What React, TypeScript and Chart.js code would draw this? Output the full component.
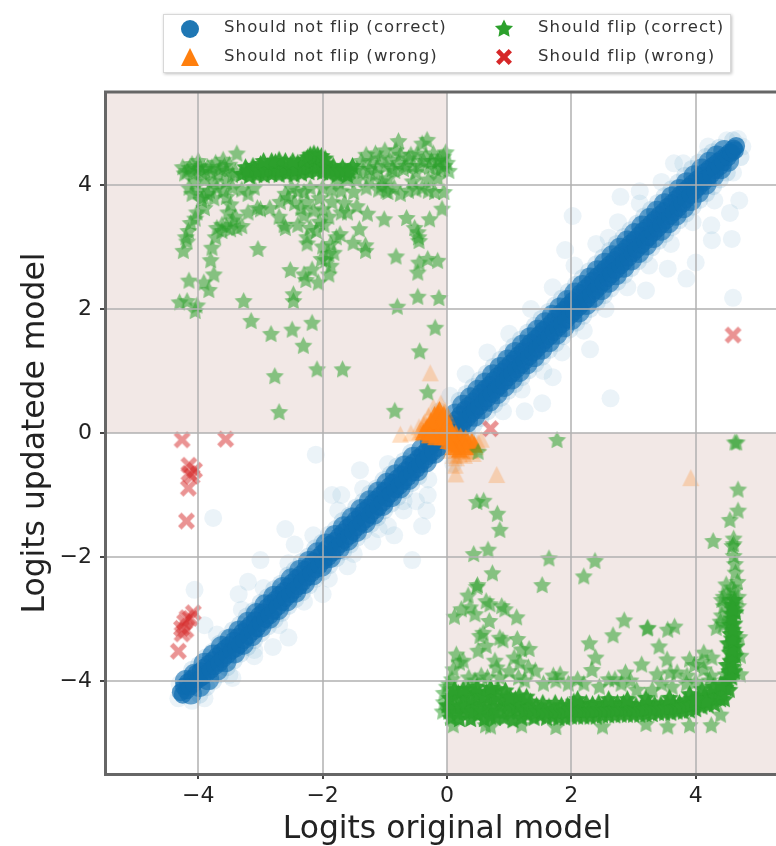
import React, { useEffect, useRef } from "react";
import { Chart, registerables } from "chart.js";

Chart.register(...registerables);

const axisTicks = [-4, -2, 0, 2, 4];
const xTitle = "Logits original model";
const yTitle = "Logits updatede model";
const legendNames = ["Should not flip (correct)", "Should not flip (wrong)", "Should flip (correct)", "Should flip (wrong)"];

type P = number[][];

const blueCore: P = [
[-4.28,-4.18],[-4.25,-4.22],[-4.23,-4.09],[-4.19,-4.15],[-4.17,-4.02],[-4.13,-4.09],[-4.1,-3.96],[-4.07,-4.04],[-4.03,-3.88],[-3.99,-3.97],
[-3.96,-3.84],[-3.93,-3.93],[-3.9,-3.78],[-3.86,-3.87],[-3.83,-3.72],[-3.8,-3.82],[-3.76,-3.66],[-3.73,-3.76],[-3.7,-3.6],[-3.66,-3.71],
[-3.63,-3.53],[-3.6,-3.64],[-3.56,-3.47],[-3.53,-3.58],[-3.5,-3.42],[-3.46,-3.51],[-3.43,-3.35],[-3.39,-3.47],[-3.36,-3.29],[-3.33,-3.41],
[-3.29,-3.21],[-3.26,-3.34],[-3.22,-3.15],[-3.19,-3.27],[-3.16,-3.09],[-3.12,-3.2],[-3.09,-3.02],[-3.06,-3.15],[-3.02,-2.94],[-2.99,-3.07],
[-2.96,-2.89],[-2.92,-3.0],[-2.89,-2.81],[-2.85,-2.94],[-2.82,-2.74],[-2.79,-2.87],[-2.75,-2.68],[-2.72,-2.8],[-2.69,-2.61],[-2.65,-2.73],
[-2.62,-2.55],[-2.59,-2.66],[-2.55,-2.47],[-2.52,-2.6],[-2.49,-2.41],[-2.45,-2.53],[-2.42,-2.34],[-2.38,-2.47],[-2.35,-2.28],[-2.32,-2.4],
[-2.28,-2.2],[-2.25,-2.33],[-2.21,-2.14],[-2.18,-2.26],[-2.15,-2.07],[-2.11,-2.2],[-2.08,-2.01],[-2.05,-2.13],[-2.01,-1.94],[-1.98,-2.06],
[-1.94,-1.87],[-1.91,-2.0],[-1.88,-1.8],[-1.84,-1.93],[-1.81,-1.74],[-1.78,-1.86],[-1.74,-1.67],[-1.71,-1.79],[-1.67,-1.6],[-1.64,-1.72],
[-1.61,-1.53],[-1.57,-1.66],[-1.54,-1.47],[-1.51,-1.59],[-1.47,-1.4],[-1.44,-1.52],[-1.4,-1.33],[-1.37,-1.45],[-1.34,-1.26],[-1.3,-1.39],
[-1.27,-1.2],[-1.24,-1.32],[-1.2,-1.13],[-1.17,-1.25],[-1.14,-1.07],[-1.1,-1.19],[-1.07,-1.0],[-1.03,-1.12],[-1.0,-0.93],[-0.97,-1.05],
[-0.93,-0.86],[-0.9,-0.98],[-0.87,-0.8],[-0.83,-0.91],[-0.8,-0.73],[-0.76,-0.85],[-0.73,-0.67],[-0.7,-0.78],[-0.66,-0.6],[-0.63,-0.71],
[-0.6,-0.53],[-0.56,-0.64],[-0.53,-0.47],[-0.49,-0.58],[-0.46,-0.4],[-0.43,-0.51],[-0.39,-0.34],[-0.36,-0.44],[-0.32,-0.27],[-0.29,-0.37],
[-0.25,-0.21],[-0.22,-0.3],[-0.18,-0.15],[-0.14,-0.24],[-0.1,-0.08],[0.02,0.08],[0.05,0.02],[0.09,0.15],[0.12,0.07],[0.16,0.22],
[0.19,0.12],[0.22,0.3],[0.26,0.17],[0.29,0.38],[0.32,0.23],[0.35,0.44],[0.39,0.31],[0.42,0.51],[0.45,0.36],[0.49,0.58],
[0.52,0.43],[0.55,0.65],[0.59,0.5],[0.62,0.72],[0.65,0.56],[0.69,0.78],[0.72,0.63],[0.75,0.85],[0.79,0.7],[0.82,0.92],
[0.85,0.76],[0.89,0.99],[0.92,0.83],[0.95,1.05],[0.99,0.9],[1.02,1.12],[1.05,0.96],[1.09,1.19],[1.12,1.03],[1.15,1.26],
[1.19,1.1],[1.22,1.32],[1.25,1.16],[1.29,1.39],[1.32,1.23],[1.35,1.46],[1.39,1.3],[1.42,1.52],[1.45,1.36],[1.49,1.59],
[1.52,1.43],[1.55,1.66],[1.59,1.5],[1.62,1.72],[1.65,1.56],[1.69,1.79],[1.72,1.63],[1.75,1.86],[1.79,1.7],[1.82,1.93],
[1.85,1.76],[1.89,1.99],[1.92,1.83],[1.95,2.06],[1.99,1.9],[2.02,2.13],[2.05,1.96],[2.09,2.19],[2.12,2.03],[2.15,2.26],
[2.19,2.1],[2.22,2.33],[2.25,2.16],[2.29,2.39],[2.32,2.23],[2.35,2.46],[2.39,2.3],[2.42,2.53],[2.45,2.36],[2.49,2.59],
[2.52,2.43],[2.55,2.66],[2.59,2.5],[2.62,2.72],[2.65,2.56],[2.69,2.79],[2.72,2.63],[2.75,2.86],[2.79,2.7],[2.82,2.92],
[2.85,2.76],[2.89,2.99],[2.92,2.83],[2.95,3.06],[2.99,2.9],[3.02,3.12],[3.05,2.96],[3.09,3.19],[3.12,3.03],[3.15,3.26],
[3.19,3.1],[3.22,3.32],[3.25,3.16],[3.29,3.39],[3.32,3.23],[3.35,3.45],[3.39,3.3],[3.42,3.52],[3.45,3.36],[3.49,3.58],
[3.52,3.43],[3.55,3.65],[3.59,3.5],[3.62,3.71],[3.65,3.56],[3.69,3.78],[3.72,3.63],[3.75,3.84],[3.79,3.7],[3.82,3.91],
[3.85,3.77],[3.89,3.97],[3.92,3.84],[3.95,4.03],[3.99,3.91],[4.02,4.09],[4.05,3.97],[4.09,4.15],[4.12,4.04],[4.15,4.21],
[4.19,4.11],[4.22,4.27],[4.25,4.17],[4.29,4.32],[4.32,4.24],[4.35,4.37],[4.39,4.3],[4.42,4.42],[4.45,4.37],[4.49,4.48],
[4.52,4.45],[4.55,4.53],[4.58,4.52],[4.61,4.59],[4.63,4.56],[4.65,4.63],
];

const blueMid: P = [
[-4.2,-4.0],[-4.12,-4.2],[-4.06,-3.9],[-3.98,-4.08],[-3.9,-3.72],[-3.84,-3.97],[-3.76,-3.59],[-3.7,-3.82],[-3.62,-3.45],[-3.56,-3.68],
[-3.48,-3.33],[-3.42,-3.54],[-3.34,-3.2],[-3.28,-3.4],[-3.2,-3.06],[-3.14,-3.26],[-3.06,-2.92],[-3.0,-3.12],[-2.92,-2.78],[-2.86,-2.98],
[-2.78,-2.64],[-2.72,-2.84],[-2.64,-2.5],[-2.58,-2.7],[-2.5,-2.36],[-2.44,-2.56],[-2.36,-2.22],[-2.3,-2.42],[-2.22,-2.08],[-2.16,-2.28],
[-2.08,-1.94],[-2.02,-2.14],[-1.94,-1.8],[-1.88,-2.0],[-1.8,-1.66],[-1.74,-1.86],[-1.66,-1.52],[-1.6,-1.72],[-1.52,-1.38],[-1.46,-1.58],
[-1.38,-1.24],[-1.32,-1.44],[-1.24,-1.1],[-1.18,-1.3],[-1.1,-0.96],[-1.04,-1.16],[-0.96,-0.82],[-0.9,-1.02],[-0.82,-0.68],[-0.76,-0.88],
[-0.68,-0.54],[-0.62,-0.74],[-0.54,-0.4],[-0.48,-0.6],[-0.4,-0.27],[-0.34,-0.46],[-0.26,-0.15],[-0.2,-0.32],
[0.14,0.3],[0.2,0.08],[0.26,0.44],[0.32,0.18],[0.38,0.56],[0.44,0.28],[0.5,0.68],[0.56,0.4],[0.62,0.8],[0.68,0.52],
[0.74,0.93],[0.8,0.64],[0.86,1.05],[0.92,0.76],[0.98,1.17],[1.04,0.88],[1.1,1.29],[1.16,1.0],[1.22,1.41],[1.28,1.12],
[1.34,1.53],[1.4,1.24],[1.46,1.65],[1.52,1.36],[1.58,1.77],[1.64,1.48],[1.7,1.89],[1.76,1.6],[1.82,2.01],[1.88,1.72],
[1.94,2.13],[2.0,1.84],[2.06,2.25],[2.12,1.96],[2.18,2.37],[2.24,2.08],[2.3,2.49],[2.36,2.2],[2.42,2.61],[2.48,2.32],
[2.54,2.73],[2.6,2.44],[2.66,2.85],[2.72,2.56],[2.78,2.97],[2.84,2.68],[2.9,3.09],[2.96,2.8],[3.02,3.21],[3.08,2.92],
[3.14,3.33],[3.2,3.04],[3.26,3.45],[3.32,3.16],[3.38,3.57],[3.44,3.28],[3.5,3.69],[3.56,3.4],[3.62,3.8],[3.68,3.52],
[3.74,3.92],[3.8,3.64],[3.86,4.03],[3.92,3.76],[3.98,4.14],[4.04,3.89],[4.1,4.25],[4.16,4.02],[4.22,4.36],[4.28,4.15],
[4.34,4.46],[4.4,4.27],[4.46,4.55],[4.52,4.39],
];

const blueOuter: P = [
[-4.1,-3.82],[-3.98,-4.22],[-3.88,-3.62],[-3.76,-4.0],[-3.66,-3.4],[-3.54,-3.78],[-3.44,-3.18],[-3.32,-3.56],[-3.22,-2.96],[-3.1,-3.34],
[-3.0,-2.74],[-2.88,-3.12],[-2.78,-2.52],[-2.66,-2.9],[-2.56,-2.3],[-2.44,-2.68],[-2.34,-2.08],[-2.22,-2.46],[-2.12,-1.86],[-2.0,-2.24],
[-1.9,-1.64],[-1.78,-2.02],[-1.68,-1.42],[-1.56,-1.8],[-1.46,-1.2],[-1.34,-1.58],[-1.24,-0.98],[-1.12,-1.36],[-1.02,-0.76],[-0.9,-1.14],
[-0.8,-0.54],[-0.68,-0.92],[-0.58,-0.32],[-0.46,-0.7],[0.2,0.52],[0.32,0.02],[0.42,0.74],[0.54,0.24],[0.64,0.96],[0.76,0.46],
[0.86,1.18],[0.98,0.68],[1.08,1.4],[1.2,0.9],[1.3,1.62],[1.42,1.12],[1.52,1.84],[1.64,1.34],[1.74,2.06],[1.86,1.56],
[1.96,2.28],[2.08,1.78],[2.18,2.5],[2.3,2.0],[2.4,2.72],[2.52,2.22],[2.62,2.94],[2.74,2.44],[2.84,3.16],[2.96,2.66],
[3.06,3.38],[3.18,2.88],[3.28,3.6],[3.4,3.1],[3.5,3.82],[3.62,3.32],[3.72,4.04],[3.84,3.54],[3.94,4.26],[4.06,3.76],
[4.16,4.45],[4.28,3.98],[4.38,4.6],[4.5,4.2],[4.6,4.72],[4.72,4.45],
[-3.99,-3.74],[-3.87,-4.1],[-3.77,-3.53],[-3.65,-3.89],[-3.55,-3.31],[-3.43,-3.67],[-3.33,-3.09],[-3.21,-3.45],[-3.11,-2.87],[-2.99,-3.23],
[-2.89,-2.65],[-2.77,-3.01],[-2.67,-2.43],[-2.55,-2.79],[-2.45,-2.21],[-2.33,-2.57],[-2.23,-1.99],[-2.11,-2.35],[-2.01,-1.77],[-1.89,-2.13],
[-1.79,-1.55],[-1.67,-1.91],[-1.57,-1.33],[-1.45,-1.69],[-1.35,-1.11],[-1.23,-1.47],[-1.13,-0.89],[-1.01,-1.25],[-0.91,-0.67],[-0.79,-1.03],
[-0.69,-0.45],[-0.57,-0.81],[0.31,0.63],[0.43,0.13],[0.53,0.85],[0.65,0.35],[0.75,1.07],[0.87,0.57],[0.97,1.29],[1.09,0.79],
[1.19,1.51],[1.31,1.01],[1.41,1.73],[1.53,1.23],[1.63,1.95],[1.75,1.45],[1.85,2.17],[1.97,1.67],[2.07,2.39],[2.19,1.89],
[2.29,2.61],[2.41,2.11],[2.51,2.83],[2.63,2.33],[2.73,3.05],[2.85,2.55],[2.95,3.27],[3.07,2.77],[3.17,3.49],[3.29,2.99],
[3.39,3.71],[3.51,3.21],[3.61,3.93],[3.73,3.43],[3.83,4.15],[3.95,3.65],[4.05,4.36],[4.17,3.87],[4.27,4.53],[4.39,4.09],
];

const blueHalo: P = [
[2.02,3.5],[2.79,3.81],[4.26,3.11],[4.58,3.13],[4.6,2.18],[4.0,2.75],[3.85,2.49],[2.63,0.56],[1.53,0.48],
[-2.11,-0.35],[-3.76,-1.37],[-4.06,-2.53],[-0.56,-2.05],[-0.31,-1.0],[-0.33,-1.25],[-1.4,-0.6],[-1.7,-1.0],[-2.6,-1.55],[-3.0,-2.05],[-3.35,-2.6],
[-3.9,-3.1],[-3.1,-3.6],[-2.8,-3.45],[-2.0,-2.6],[-1.6,-2.15],[-1.2,-1.75],[-0.95,-1.5],[-0.7,-1.25],[-0.5,-1.1],[-4.1,-4.32],[-4.32,-4.28],[-4.3,-4.05],
[-3.7,-3.25],[-3.3,-2.85],[-2.95,-2.5],[-2.55,-2.1],[-2.15,-1.65],[-1.75,-1.25],[-1.35,-0.9],[-0.95,-0.5],[-3.9,-4.28],[-3.5,-3.9],[-3.1,-3.5],[-2.7,-3.1],
[-2.3,-2.72],[-1.9,-2.35],[-1.5,-1.95],[-1.1,-1.55],[-0.7,-1.1],[-0.3,-0.75],[0.1,-0.5],[0.35,-0.1],[0.9,0.35],[1.2,0.7],[1.55,1.0],
[1.85,1.3],[2.2,1.65],[2.55,2.0],[2.9,2.35],[3.25,2.7],[3.6,3.05],[3.95,3.4],[4.3,3.75],[4.6,4.2],[4.75,4.62],[4.68,4.74],[4.5,4.72],[4.2,4.62],
[3.8,4.35],[3.45,4.05],[3.1,3.7],[2.75,3.4],[2.4,3.05],[2.05,2.7],[1.7,2.35],[1.35,2.0],[1.0,1.6],[0.65,1.3],[0.3,0.95],[0.05,0.6],[-0.12,0.35],
[1.9,2.95],[2.6,3.15],[3.1,3.9],[3.65,4.35],[1.25,0.35],[1.7,0.9],[2.3,1.35],[3.2,2.3],[3.55,2.65],[4.25,3.35],
[4.55,3.55],[4.7,3.75],[-3.2,-2.4],[-2.45,-1.8],[-1.85,-1.0],[-3.45,-3.95],[-2.55,-3.3],[-0.85,-1.65],[-0.4,-1.5],
];

const orangeWrong: P = [
[-0.27,0.97],[-0.75,-0.02],[-0.58,0.0],[0.8,-0.67],[3.92,-0.72],[0.14,-0.66],[0.13,-0.52],[0.55,-0.1],[0.42,-0.33],[0.3,-0.3],[-0.45,0.1],[-0.38,0.15],[-0.3,0.28],[-0.22,0.42],[-0.1,0.48],[-0.14,0.36],
[0.06,-0.28],[0.1,-0.36],[0.15,-0.4],[0.2,-0.34],[0.24,-0.28],[0.28,-0.36],[0.36,-0.2],[0.38,-0.28],[0.46,-0.22],[0.5,-0.15],[-0.4,0.05],[-0.44,0.02],[-0.36,0.18],[-0.03,0.36],[0.01,0.28],[-0.06,0.32],
];

const orangeDense: P = [
[-0.34,0.05],[-0.28,0.08],[-0.24,0.14],[-0.2,0.2],[-0.16,0.26],[-0.14,0.32],[-0.12,0.2],[-0.1,0.12],[-0.16,0.1],[-0.22,0.04],[-0.16,0.0],[-0.1,0.02],[-0.05,0.06],[-0.04,-0.02],
[0.02,0.02],[0.04,-0.06],[0.1,-0.06],[0.08,-0.13],[0.16,-0.1],[0.14,-0.16],[0.22,-0.12],[0.28,-0.14],[0.34,-0.14],[-0.06,0.16],[-0.08,0.24],[-0.02,0.1],[-0.28,0.02],[0.18,-0.18],
[-0.38,0.02],[-0.32,0.1],[-0.26,0.2],[-0.2,0.3],[-0.12,0.38],[-0.05,0.3],[0.02,0.14],[0.06,0.06],[0.14,0.0],[0.22,-0.05],[0.3,-0.08],[0.4,-0.12],[0.44,-0.18],[0.3,-0.22],[0.2,-0.26],[0.1,-0.22],[0.02,-0.12],[-0.08,-0.06],[-0.18,-0.06],[-0.28,-0.03],[0.0,0.0],[0.06,0.0],[-0.02,-0.06],
];

const greenDenseTop: P = [
[-3.3,4.17],[-3.24,4.28],[-3.18,4.14],[-3.12,4.3],[-3.06,4.16],[-3.0,4.33],[-2.94,4.15],[-2.88,4.3],[-2.82,4.17],[-2.76,4.36],[-2.7,4.16],[-2.64,4.3],[-2.58,4.18],[-2.52,4.32],[-2.46,4.16],[-2.4,4.35],
[-2.34,4.18],[-2.28,4.34],[-2.22,4.2],[-2.16,4.42],[-2.1,4.22],[-2.05,4.4],[-2.0,4.2],[-1.95,4.34],[-1.9,4.18],[-1.83,4.3],[-1.76,4.16],[-1.68,4.28],[-1.6,4.15],[-1.52,4.3],[-3.15,4.22],[-2.95,4.24],
[-2.75,4.25],[-2.55,4.26],[-2.35,4.27],[-2.14,4.3],[-2.03,4.3],[-3.21,4.22],[-3.09,4.24],[-3.03,4.22],[-2.91,4.22],[-2.85,4.24],[-2.79,4.26],[-2.73,4.24],[-2.67,4.22],[-2.61,4.25],[-2.49,4.25],[-2.43,4.24],
[-2.31,4.26],[-2.25,4.28],[-2.19,4.3],[-2.12,4.34],[-2.08,4.3],[-1.98,4.28],[-1.92,4.26],[-1.86,4.24],[-1.8,4.22],[-1.72,4.22],[-1.64,4.22],[-1.56,4.22],[-2.18,4.38],[-2.12,4.42],
[-2.3,4.4],[-2.24,4.44],[-2.2,4.48],[-2.14,4.5],[-2.08,4.48],[-2.02,4.46],[-1.96,4.42],[-2.6,4.38],[-2.7,4.4],[-2.82,4.38],[-2.95,4.38],[-2.48,4.38],
];

const greenTop: P = [
[-4.24,2.93],[-4.15,2.45],[-4.3,2.1],[-4.18,2.12],[-4.05,1.96],[-4.02,2.05],[-3.91,2.42],[-3.83,2.3],[-3.75,2.55],[-3.8,2.78],[-3.78,2.98],[-3.04,2.96],[-3.27,2.12],[-3.15,1.8],[-2.83,1.59],[-2.49,1.66],
[-2.17,1.77],[-2.31,1.4],[-2.77,0.91],[-2.7,0.33],[-2.09,1.02],[-1.68,1.02],[-2.47,2.23],[-2.47,2.12],[-2.52,2.62],[-2.27,2.46],[-2.17,2.63],[-2.07,2.42],[-1.9,2.55],[-1.87,2.69],[-1.9,2.88],[-1.82,2.9],
[-1.87,3.04],[-1.78,3.15],[-1.51,3.06],[-1.31,2.93],[-1.31,3.02],[-1.41,3.28],[-0.82,2.84],[-0.8,2.03],[-0.47,2.19],[-0.13,2.17],[-0.19,1.69],[-0.44,1.31],[-0.31,0.65],[-0.84,0.35],[-0.47,2.58],[-0.45,2.74],
[-0.31,2.8],[-0.15,2.77],[-0.45,3.09],[-0.47,3.23],[-0.28,3.44],[-0.65,3.46],[-1.01,3.44],[-1.28,3.53],[-0.08,3.61],[-0.46,3.15],[-0.52,3.3],[-1.72,3.2],[-2.0,3.0],[-2.02,2.8],[-1.95,2.78],[-2.3,2.55],
[-4.2,3.15],[-4.16,3.25],[-4.12,3.38],[-4.18,3.08],[-3.7,3.3],[-3.62,3.35],[-3.55,3.32],[-3.48,3.28],[-3.38,3.3],[-3.3,3.33],[-3.45,3.42],[-3.62,3.25],[-3.72,3.15],[-3.52,3.55],[-3.48,3.68],[-3.4,3.48],
[-3.2,3.55],[-3.05,3.62],[-3.0,3.6],[-2.85,3.62],[-2.7,3.48],[-2.62,3.35],[-2.6,3.3],[-2.4,3.35],[-2.25,3.15],[-2.25,3.05],[-2.2,3.3],[-2.1,3.25],[-2.05,3.4],[-1.98,3.35],[-1.9,3.48],[-1.7,3.55],
[-1.65,3.7],[-2.3,3.5],[-2.35,3.62],[-2.45,3.7],[-2.15,3.58],[-2.0,3.6],[-1.85,3.72],[-2.55,3.78],[-2.68,3.72],[-2.25,3.72],[-2.05,3.78],[-1.6,3.55],[-1.45,3.65],[-4.05,3.45],[-3.95,3.75],[-4.0,3.9],
[-4.1,3.85],[-4.15,3.95],[-3.85,3.85],[-3.75,3.78],[-3.9,3.62],[-4.02,3.55],[-3.7,3.95],[-3.82,3.9],[-3.45,3.95],[-3.55,3.8],[-3.1,3.95],[-3.2,3.85],[-2.5,3.95],[-2.3,3.88],[-2.4,3.9],[-2.2,3.95],
[-2.6,3.85],[-2.0,3.95],[-1.85,3.92],[-1.7,3.9],[-1.5,3.88],[-1.3,3.95],[-1.1,3.92],[-0.95,3.88],[-0.85,3.95],[-0.75,3.85],[-0.5,3.92],[-0.3,3.9],[-0.2,3.88],[-0.05,3.88],[-0.4,3.95],[-0.62,3.9],
[-4.25,4.28],[-4.18,4.22],[-4.1,4.33],[-4.02,4.25],[-4.0,4.38],[-3.95,4.2],[-3.85,4.28],[-3.8,4.2],[-3.72,4.35],[-3.65,4.25],[-3.6,4.4],[-3.55,4.22],[-3.5,4.32],[-3.45,4.15],[-3.38,4.5],[-3.4,4.2],
[-1.45,4.25],[-1.38,4.38],[-1.3,4.48],[-1.22,4.35],[-1.15,4.5],[-1.08,4.42],[-1.0,4.55],[-0.92,4.4],[-0.82,4.55],[-0.78,4.7],[-0.75,4.48],[-0.7,4.25],[-0.62,4.42],[-0.55,4.3],[-0.48,4.5],[-0.4,4.66],
[-0.38,4.38],[-0.32,4.72],[-0.28,4.28],[-0.22,4.5],[-0.15,4.38],[-0.1,4.25],[-0.06,4.45],[0.0,4.35],[0.03,4.22],[-0.02,4.52],[-1.25,4.08],[-1.05,4.05],[-0.95,4.1],[-0.55,4.05],[-0.3,4.08],[-0.15,4.1],
[-3.55,4.05],[-3.9,4.08],[-4.05,4.05],[-3.75,4.05],[-1.45,4.08],[-1.6,4.08],[-1.75,4.05],[-3.3,3.92],[-1.05,3.98],[-0.98,3.9],[-3.92,3.8],[-3.6,3.9],
[-4.22,4.18],[-4.14,4.27],[-4.08,4.18],[-3.98,4.3],[-3.9,4.25],[-3.78,4.28],[-3.68,4.18],[-3.58,4.3],[-1.35,4.22],[-1.25,4.25],[-1.12,4.28],[-0.98,4.3],[-0.88,4.25],[-0.78,4.35],[-0.66,4.3],[-0.58,4.48],
[-0.44,4.3],[-0.34,4.45],[-0.25,4.38],[-0.18,4.25],[-0.12,4.4],[-0.04,4.3],[-0.5,4.2],[-0.84,4.22],[-1.15,4.18],
];

const greenDenseBottom: P = [
[0.0,-4.4],[0.06,-4.6],[0.1,-4.25],[0.14,-4.45],[0.2,-4.62],[0.24,-4.3],[0.28,-4.5],[0.34,-4.14],[0.38,-4.62],[0.42,-4.38],[0.46,-4.2],[0.5,-4.55],[0.56,-4.34],[0.6,-4.62],[0.64,-4.18],[0.68,-4.48],
[0.74,-4.3],[0.78,-4.6],[0.82,-4.14],[0.86,-4.42],[0.92,-4.6],[0.96,-4.26],[1.0,-4.5],[1.06,-4.64],[1.1,-4.3],[1.14,-4.5],[1.2,-4.6],[1.24,-4.36],[1.3,-4.55],[1.34,-4.34],[1.4,-4.6],[1.44,-4.4],
[1.5,-4.56],[1.54,-4.36],[1.6,-4.6],[1.64,-4.42],[1.7,-4.58],[1.74,-4.36],[1.8,-4.6],[1.84,-4.4],[1.9,-4.6],[1.94,-4.4],[2.0,-4.58],[2.04,-4.34],[2.1,-4.58],[2.14,-4.38],[2.2,-4.58],[2.24,-4.36],
[2.3,-4.58],[2.34,-4.38],[2.4,-4.58],[2.44,-4.36],[2.5,-4.56],[2.54,-4.38],[2.6,-4.56],[2.64,-4.38],[2.7,-4.56],[2.74,-4.36],[2.8,-4.55],[2.84,-4.36],[2.9,-4.55],[2.94,-4.38],[3.0,-4.55],[3.04,-4.4],
[3.1,-4.55],[3.14,-4.4],[3.2,-4.54],[3.24,-4.36],[3.3,-4.54],[3.34,-4.38],[3.4,-4.52],[3.44,-4.38],[3.5,-4.52],[3.54,-4.36],[3.6,-4.52],[3.64,-4.36],[3.7,-4.5],[3.74,-4.36],[3.8,-4.5],[3.84,-4.32],
[3.9,-4.48],[3.94,-4.3],[4.0,-4.46],[4.04,-4.28],[4.1,-4.42],[4.14,-4.25],[4.2,-4.4],[4.24,-4.2],[4.3,-4.38],[4.34,-4.18],[4.4,-4.3],[4.44,-4.1],[4.46,-4.3],[4.5,-4.0],[4.54,-4.15],[4.56,-3.9],
[4.5,-3.75],[4.58,-3.7],[4.62,-3.85],[4.55,-3.55],[4.64,-3.6],[4.52,-3.4],[4.6,-3.4],[4.65,-3.45],[4.56,-3.25],[4.63,-3.25],[4.55,-3.1],[4.62,-3.08],[4.57,-2.92],[4.64,-2.9],[4.58,-2.78],[4.62,-2.7],
[0.03,-4.5],[0.08,-4.42],[0.17,-4.52],[0.22,-4.42],[0.31,-4.4],[0.36,-4.5],[0.44,-4.5],[0.52,-4.44],[0.58,-4.5],[0.66,-4.36],[0.7,-4.58],[0.76,-4.44],[0.84,-4.5],[0.9,-4.34],[0.98,-4.4],[1.04,-4.44],
[1.12,-4.42],[1.18,-4.4],[1.26,-4.48],[1.32,-4.44],[1.38,-4.48],[1.46,-4.5],[1.52,-4.46],[1.58,-4.5],[1.66,-4.5],[1.72,-4.48],[1.78,-4.5],[1.86,-4.5],[1.92,-4.5],[1.98,-4.46],[2.06,-4.46],[2.12,-4.48],
[2.18,-4.48],[2.26,-4.48],[2.32,-4.48],[2.38,-4.48],[2.46,-4.46],[2.52,-4.48],[2.58,-4.47],[2.66,-4.47],[2.72,-4.46],[2.78,-4.46],[2.86,-4.46],[2.92,-4.46],[2.98,-4.46],[3.06,-4.48],[3.12,-4.46],[3.18,-4.46],
[3.26,-4.44],[3.32,-4.46],[3.38,-4.44],[3.46,-4.45],[3.52,-4.44],[3.58,-4.44],[3.66,-4.44],[3.72,-4.42],[3.78,-4.42],[3.86,-4.4],[3.92,-4.38],[3.98,-4.36],[4.06,-4.35],[4.12,-4.32],[4.18,-4.3],[4.26,-4.28],
[4.32,-4.27],[4.38,-4.2],[4.42,-4.2],[4.48,-4.12],[4.52,-3.98],[4.54,-3.85],[4.58,-3.95],[4.6,-3.78],[4.56,-3.68],[4.6,-3.6],[4.58,-3.5],[4.62,-3.35],[4.58,-3.32],[4.6,-3.18],[4.58,-3.0],[4.6,-2.85],
[0.04,-4.28],[0.18,-4.2],[0.3,-4.24],[0.4,-4.28],[0.52,-4.22],[0.6,-4.25],[0.72,-4.18],[0.8,-4.26],[0.94,-4.16],[1.02,-4.28],[1.16,-4.24],[1.28,-4.26],[0.12,-4.14],[0.26,-4.14],[0.48,-4.1],[0.7,-4.12],
[2.1,-4.3],[2.6,-4.3],[2.9,-4.3],[3.2,-4.28],[3.58,-4.28],[3.9,-4.22],[4.1,-4.14],[4.28,-4.1],[4.4,-4.06],[4.16,-4.34],[4.0,-4.3],
];

const greenBottom: P = [
[1.77,-0.12],[4.66,-0.16],[4.63,-0.16],[0.5,-0.31],[4.68,-0.92],[4.68,-1.26],[4.55,-1.41],[4.28,-1.75],[4.61,-1.71],[4.59,-1.83],[4.61,-1.8],[4.61,-1.99],[4.63,-2.12],[4.64,-2.26],[4.67,-2.41],[4.49,-2.45],
[0.48,-1.12],[0.59,-1.1],[0.81,-1.31],[0.85,-1.57],[0.66,-1.89],[0.43,-1.96],[0.73,-2.27],[0.48,-2.49],[0.49,-2.46],[1.64,-2.03],[2.38,-2.07],[2.2,-2.32],[1.53,-2.46],[2.85,-3.03],[2.67,-3.27],[3.22,-3.16],
[3.23,-3.15],[3.55,-3.18],[3.66,-3.13],[3.41,-3.45],[2.29,-3.4],[2.39,-3.63],[2.33,-3.83],[3.13,-3.74],[3.54,-3.66],[3.9,-3.66],[4.13,-3.55],[4.26,-3.63],[2.87,-3.87],[2.7,-3.98],[3.59,-3.87],[3.38,-3.9],
[3.7,-3.87],[3.86,-3.92],[4.13,-3.82],[4.25,-3.92],[1.82,-3.9],[1.71,-3.92],[0.12,-2.97],[0.23,-2.85],[0.34,-2.63],[0.37,-2.82],[0.45,-2.93],[0.63,-2.72],[0.69,-2.77],[0.88,-2.8],[0.93,-2.85],[1.12,-2.98],
[0.68,-3.04],[0.53,-3.28],[0.58,-3.23],[0.85,-3.31],[1.13,-3.33],[1.32,-3.49],[0.5,-3.52],[0.63,-3.44],[1.08,-3.63],[1.17,-3.71],[1.31,-3.79],[1.42,-3.84],[0.77,-3.68],[0.8,-3.79],[0.15,-3.58],[0.26,-3.68],
[0.2,-3.71],[0.1,-3.82],[0.55,-3.92],[0.9,-3.35],[1.2,-3.5],[1.0,-3.85],[0.35,-3.95],[0.65,-3.95],[0.85,-3.95],[1.15,-3.95],[1.25,-4.0],[0.08,-3.98],[0.03,-4.05],[0.45,-4.0],[1.55,-4.05],[1.75,-4.0],
[1.95,-4.05],[2.1,-3.98],[2.2,-4.05],[2.45,-4.1],[2.6,-3.98],[2.8,-4.05],[2.95,-4.0],[3.05,-4.15],[3.3,-4.15],[3.45,-4.05],[3.62,-4.1],[3.85,-4.05],[4.0,-4.02],[4.22,-4.0],[4.1,-3.7],[3.98,-3.75],
[-0.05,-4.2],[-0.07,-4.5],[-0.05,-4.35],[0.0,-4.1],[0.7,-4.74],[0.62,-4.72],[1.75,-4.75],[3.55,-4.74],[3.9,-4.72],[4.25,-4.72],[4.4,-4.55],[2.5,-4.74],[3.2,-4.7],[1.2,-4.72],[0.1,-4.72],[4.42,-2.95],
[4.45,-2.65],[4.5,-2.6],[4.58,-2.5],[4.62,-2.55],[4.68,-2.65],[4.55,-2.7],[4.42,-2.7],[4.45,-2.8],[4.68,-2.8],[4.7,-3.3],[4.72,-3.6],[4.72,-3.9],[4.45,-3.1],[4.48,-3.9],[4.4,-3.05],[4.33,-3.15],
];

const redWrong: P = [
[-4.26,-0.11],[-3.56,-0.1],[-4.15,-0.52],[-4.06,-0.6],[-4.1,-0.7],[-4.15,-0.65],[-4.16,-0.89],[-4.19,-1.42],[-4.08,-2.9],[-4.18,-2.98],[-4.22,-3.05],[-4.26,-3.24],[-4.27,-3.15],[-4.2,-3.18],[-4.32,-3.52],[0.7,0.07],[4.6,1.58],[-4.13,-2.99],
];

const BLUE = "31,119,180";
const BLUE_DEEP = "14,108,176";
const ORANGE = "255,127,14";
const GREEN = "44,160,44";
const RED = "214,39,40";

function sprite(size: number, draw: (c: CanvasRenderingContext2D, s: number) => void) {
  const cv = document.createElement("canvas");
  cv.width = size;
  cv.height = size;
  const c = cv.getContext("2d")!;
  draw(c, size);
  return cv;
}
function starPath(c: CanvasRenderingContext2D, cx: number, cy: number, r: number) {
  c.beginPath();
  for (let i = 0; i < 10; i++) {
    const rad = i % 2 ? r * 0.5 : r;
    const a = -Math.PI / 2 + (i * Math.PI) / 5;
    const px = cx + rad * Math.cos(a);
    const py = cy + rad * Math.sin(a);
    if (i) c.lineTo(px, py);
    else c.moveTo(px, py);
  }
  c.closePath();
}
function triPath(c: CanvasRenderingContext2D, cx: number, cy: number, r: number) {
  c.beginPath();
  c.moveTo(cx, cy - r);
  c.lineTo(cx + r, cy + r);
  c.lineTo(cx - r, cy + r);
  c.closePath();
}
function xPath(c: CanvasRenderingContext2D, cx: number, cy: number, r: number) {
  const t = r * 0.42;
  const pts = [[-r, -r + t], [-r + t, -r], [0, -t], [r - t, -r], [r, -r + t], [t, 0], [r, r - t], [r - t, r], [0, t], [-r + t, r], [-r, r - t], [-t, 0]];
  c.beginPath();
  pts.forEach(([a, b], i) => (i ? c.lineTo(cx + a, cy + b) : c.moveTo(cx + a, cy + b)));
  c.closePath();
}
function mk(path: typeof starPath, rgb: string, alpha: number, r: number) {
  const size = Math.ceil(r * 2 + 4);
  return sprite(size, (c, s) => {
    c.fillStyle = `rgba(${rgb},${alpha})`;
    path(c, s / 2, s / 2, r);
    c.fill();
  });
}

export default function App() {
  const ref = useRef<HTMLCanvasElement>(null);
  useEffect(() => {
    const shade = {
      id: "shade",
      beforeDatasetsDraw(ch: any) {
        const { ctx, scales: { x, y } } = ch;
        const x0 = x.getPixelForValue(0);
        const y0 = y.getPixelForValue(0);
        ctx.save();
        ctx.fillStyle = "rgb(242,232,230)";
        ctx.fillRect(x.left, y.top, x0 - x.left, y0 - y.top);
        ctx.fillRect(x0, y0, x.right - x0, y.bottom - y0);
        ctx.restore();
      },
      afterDraw(ch: any) {
        const { ctx, scales: { x, y } } = ch;
        ctx.save();
        ctx.strokeStyle = "#666";
        ctx.lineWidth = 3;
        ctx.beginPath();
        ctx.moveTo(x.left - 1, y.top);
        ctx.lineTo(x.right, y.top);
        ctx.stroke();
        ctx.restore();
        // legend
        ctx.save();
        ctx.shadowColor = "rgba(0,0,0,0.25)";
        ctx.shadowBlur = 3;
        ctx.shadowOffsetX = 1;
        ctx.shadowOffsetY = 1;
        ctx.fillStyle = "#fff";
        ctx.fillRect(163, 14, 568, 59);
        ctx.restore();
        ctx.save();
        ctx.strokeStyle = "#d8d8d8";
        ctx.strokeRect(163.5, 14.5, 567, 58);
        ctx.font = "16.5px 'DejaVu Sans'";
        ctx.fillStyle = "#333";
        ctx.textBaseline = "middle";
        ctx.letterSpacing = "1.1px";
        const pos = [[224, 28], [224, 57], [538, 28], [538, 57]];
        pos.forEach(([tx, ty], i) => {
          ctx.fillText(legendNames[i], tx, ty);
        });
        ctx.fillStyle = `rgb(${BLUE})`;
        ctx.beginPath();
        ctx.arc(190, 29, 9, 0, Math.PI * 2);
        ctx.fill();
        ctx.fillStyle = `rgb(${ORANGE})`;
        triPath(ctx, 190, 57, 9);
        ctx.fill();
        ctx.fillStyle = `rgb(${GREEN})`;
        starPath(ctx, 504, 29, 9.5);
        ctx.fill();
        ctx.fillStyle = `rgb(${RED})`;
        xPath(ctx, 504, 57, 8);
        ctx.fill();
        ctx.restore();
      },
    };
    const toXY = (p: P) => p.map(([a, b]) => ({ x: a, y: b }));
    const starS = mk(starPath, GREEN, 0.55, 9.5);
    const starD = mk(starPath, GREEN, 0.95, 9.5);
    const tri = mk(triPath, ORANGE, 0.25, 8.5);
    const triD = mk(triPath, ORANGE, 0.85, 8.5);
    const cross = mk(xPath, RED, 0.5, 8.5);
    const ticksFont = { family: "'DejaVu Sans'", size: 22 };
    const axis = (title: string, horizontal: boolean) => ({
      type: "linear" as const,
      min: -5.5,
      max: 5.5,
      afterBuildTicks: (s: any) => {
        s.ticks = axisTicks.map((value) => ({ value }));
      },
      afterFit: (s: any) => {
        s.paddingLeft = 0;
        s.paddingRight = 0;
        s.paddingTop = 0;
        s.paddingBottom = 0;
        if (horizontal) s.height = 72;
        else s.width = 105;
      },
      grid: { color: "rgba(176,176,176,0.75)", lineWidth: 2, z: 1, drawTicks: true, tickLength: 5, tickColor: "#444", tickWidth: 2 },
      border: { display: true, color: "#666", width: 3, z: 2 },
      ticks: {
        color: "#222",
        font: ticksFont,
        padding: horizontal ? 4 : 8,
        maxRotation: 0,
        autoSkip: false,
        callback: (v: any) => String(v).replace("-", "\u2212"),
      },
      title: { display: true, text: title, color: "#222", font: { family: "'DejaVu Sans'", size: 31.4 }, padding: horizontal ? { top: 2, bottom: -3 } : { top: 17, bottom: 0 } },
    });
    const circle = { pointStyle: "circle", pointRadius: 9, pointBorderWidth: 0 };
    const circleWide = { pointStyle: "circle", pointRadius: 11, pointBorderWidth: 0 };
    // Chart.js paints the first dataset last, so this list runs from the top layer down.
    const chart = new Chart(ref.current!, {
      type: "scatter",
      data: {
        datasets: [
          { label: legendNames[3], data: toXY(redWrong), pointStyle: cross, pointRadius: 8 },
          { label: legendNames[2], data: toXY(greenDenseBottom), pointStyle: starD, pointRadius: 9 },
          { label: legendNames[2], data: toXY(greenBottom), pointStyle: starS, pointRadius: 9 },
          { label: legendNames[2], data: toXY(greenDenseTop), pointStyle: starD, pointRadius: 9 },
          { label: legendNames[2], data: toXY(greenTop), pointStyle: starS, pointRadius: 9 },
          { label: legendNames[1], data: toXY(orangeDense), pointStyle: triD, pointRadius: 8, pointBorderWidth: 0 },
          { label: legendNames[1], data: toXY(orangeWrong), pointStyle: tri, pointRadius: 8, pointBorderWidth: 0 },
          { label: legendNames[0], data: toXY(blueCore), ...circle, backgroundColor: `rgba(${BLUE_DEEP},0.7)` },
          { label: legendNames[0], data: toXY(blueMid), ...circleWide, backgroundColor: `rgba(${BLUE_DEEP},0.6)` },
          { label: legendNames[0], data: toXY(blueOuter), ...circle, backgroundColor: `rgba(${BLUE},0.14)` },
          { label: legendNames[0], data: toXY(blueHalo), ...circle, backgroundColor: `rgba(${BLUE},0.09)` },
        ] as any,
      },
      options: {
        responsive: false,
        animation: false,
        layout: { autoPadding: false, padding: { top: 92, left: 0, right: 0, bottom: 0 } },
        plugins: { legend: { display: false }, title: { display: false }, tooltip: { enabled: false } },
        scales: { x: axis(xTitle, true), y: axis(yTitle, false) } as any,
      },
      plugins: [shade],
    });
    return () => chart.destroy();
  }, []);
  return (
    <div style={{ position: "absolute", left: 0, top: 0, width: 776, height: 846, overflow: "hidden", background: "#fff" }}>
      <canvas ref={ref} width={789} height={846} style={{ display: "block", filter: "blur(0.6px)" }} />
    </div>
  );
}
